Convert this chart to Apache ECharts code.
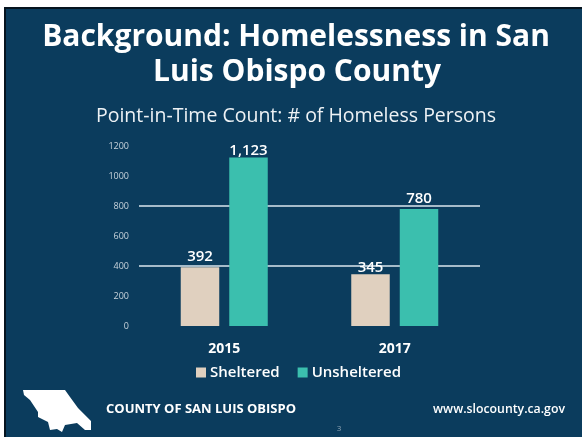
<!DOCTYPE html>
<html>
<head>
<meta charset="utf-8">
<style>html,body{margin:0;padding:0;background:#fff}#chart{width:582px;height:437px}</style>
<script src="https://cdn.jsdelivr.net/npm/echarts@6/dist/echarts.min.js"></script>
</head>
<body>
<div id="chart"></div>
<script>
const categories = ['2015', '2017'];
const sheltered = [392, 345];
const unsheltered = [1123, 780];
const seriesNames = ['Sheltered', 'Unsheltered'];
const titleLines = ['Background: Homelessness in San', 'Luis Obispo County'];
const subtitle = 'Point-in-Time Count: # of Homeless Persons';

const NAVY = '#0b3c5d';
const SAND = '#e0d0bf';
const TEAL = '#3bbfae';
const FONT = '"Open Sans","Noto Sans",sans-serif';

// County outline used as the footer emblem
const countyOutline = [[23,390],[65,390],[70,397],[78,408],[91,421],[91,430],[85,430],[77,423],[65,425],[62,432],[57,429],[50,430],[48,422],[38,417],[38,412],[30,400],[24,395]];

const chart = echarts.init(document.getElementById('chart'), null, {renderer: 'canvas'});

const valueLabel = {
  show: true,
  position: 'top',
  distance: 3,
  color: '#fff',
  fontFamily: FONT,
  fontSize: 15,
  fontWeight: 600,
  formatter: p => p.value.toLocaleString('en-US')
};

// Labels that sit tight against their bar
const snugLabel = {distance: -1};
const withLabel = (values, snug) => values.map(v => snug.includes(v) ? {value: v, label: snugLabel} : v);

chart.setOption({
  animation: false,
  backgroundColor: '#fff',
  grid: {left: 139, top: 146, width: 341, height: 180, containLabel: false},
  legend: {
    top: 365, left: 196, padding: 0,
    data: seriesNames,
    icon: 'rect', itemWidth: 10, itemHeight: 10, itemGap: 18,
    textStyle: {color: '#fff', fontFamily: FONT, fontSize: 15, fontWeight: 600, padding: [0, 0, 0, -1]}
  },
  xAxis: {
    type: 'category',
    data: categories,
    axisLine: {show: false},
    axisTick: {show: false},
    axisLabel: {color: '#fff', fontFamily: FONT, fontSize: 14, fontWeight: 700, margin: 16}
  },
  yAxis: [
    {
      type: 'value', min: 0, max: 1200, interval: 200,
      axisLine: {show: false}, axisTick: {show: false}, splitLine: {show: false},
      axisLabel: {color: '#c9d4dc', fontFamily: FONT, fontSize: 9, margin: 10, formatter: v => String(v)}
    },
    {
      // Carries only the horizontal rules at 400 and 800
      type: 'value', position: 'left', min: 0, max: 1200, interval: 400,
      axisLine: {show: false}, axisTick: {show: false}, axisLabel: {show: false},
      splitLine: {show: true, showMinLine: false, showMaxLine: false, lineStyle: {color: '#dbe6ee', width: 1.5}}
    }
  ],
  series: [
    {name: seriesNames[0], type: 'bar', data: withLabel(sheltered, [345]), barWidth: 38.5, barGap: '26%',
     itemStyle: {color: SAND}, label: valueLabel},
    {name: seriesNames[1], type: 'bar', data: withLabel(unsheltered, [1123]), barWidth: 38.5, barGap: '26%',
     itemStyle: {color: TEAL}, label: valueLabel}
  ],
  graphic: {elements: [
    {type: 'rect', z: -10, silent: true, shape: {x: 5, y: 8, width: 580, height: 432},
     style: {fill: NAVY, stroke: '#06141f', lineWidth: 2}},
    {type: 'text', z: 5, x: 296, y: 37, style: {text: titleLines[0], fill: '#fff', font: '700 30px ' + FONT, align: 'center', verticalAlign: 'middle'}},
    {type: 'text', z: 5, x: 297, y: 72, style: {text: titleLines[1], fill: '#fff', font: '700 30px ' + FONT, align: 'center', verticalAlign: 'middle'}},
    {type: 'text', z: 5, x: 296, y: 116, style: {text: subtitle, fill: '#eef2f5', font: '400 19.5px ' + FONT, align: 'center', verticalAlign: 'middle'}},
    {type: 'polygon', z: 5, shape: {points: countyOutline}, style: {fill: '#fff'}},
    {type: 'text', z: 5, x: 106, y: 409, style: {text: 'COUNTY OF SAN LUIS OBISPO', fill: '#fff', font: '700 13px ' + FONT, verticalAlign: 'middle'}},
    {type: 'text', z: 5, x: 565, y: 409, style: {text: 'www.slocounty.ca.gov', fill: '#fff', font: '600 12.3px ' + FONT, align: 'right', verticalAlign: 'middle'}},
    {type: 'text', z: 5, x: 339, y: 429, style: {text: '3', fill: '#8fa5b5', font: '400 8px ' + FONT, align: 'center', verticalAlign: 'middle'}}
  ]}
});
</script>
</body>
</html>
